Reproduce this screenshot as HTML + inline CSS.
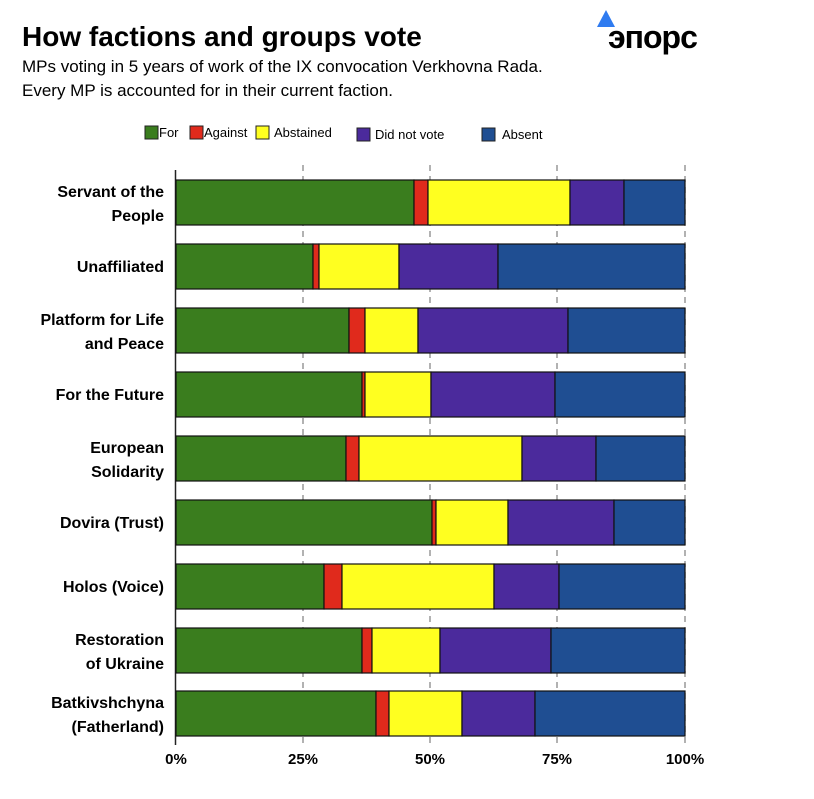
<!DOCTYPE html>
<html><head><meta charset="utf-8"><style>
body{margin:0;background:#fff;width:814px;height:794px;overflow:hidden;font-family:"Liberation Sans",sans-serif;}
</style></head><body>
<svg width="814" height="794" xmlns="http://www.w3.org/2000/svg" font-family="Liberation Sans, sans-serif">
<text x="22" y="46" font-size="28" font-weight="bold" fill="#000">How factions and groups vote</text>
<text x="22" y="72" font-size="17" fill="#000">MPs voting in 5 years of work of the IX convocation Verkhovna Rada.</text>
<text x="22" y="96" font-size="17" fill="#000">Every MP is accounted for in their current faction.</text>
<polygon points="606,10 597,27 615,27" fill="#2f7bf0"/>
<text x="608" y="48" font-size="32" font-weight="bold" fill="#000" letter-spacing="-1">эпорс</text>
<g font-size="13" fill="#000">
<rect x="145" y="126" width="13" height="13" fill="#3a7d1e" stroke="#222"/><text x="159" y="137">For</text>
<rect x="190" y="126" width="13" height="13" fill="#e02a1c" stroke="#222"/><text x="204" y="137">Against</text>
<rect x="256" y="126" width="13" height="13" fill="#ffff20" stroke="#222"/><text x="274" y="137">Abstained</text>
<rect x="357" y="128" width="13" height="13" fill="#4b2a9c" stroke="#222"/><text x="375" y="139">Did not vote</text>
<rect x="482" y="128" width="13" height="13" fill="#1f4e92" stroke="#222"/><text x="502" y="139">Absent</text>
</g>
<g stroke="#999" stroke-width="1.5" stroke-dasharray="6,5">
<line x1="303" y1="165" x2="303" y2="745"/><line x1="430" y1="165" x2="430" y2="745"/>
<line x1="557" y1="165" x2="557" y2="745"/><line x1="685" y1="165" x2="685" y2="745"/>
</g>
<line x1="175.5" y1="170" x2="175.5" y2="745" stroke="#222" stroke-width="1.5"/>
<g stroke="#111" stroke-width="1.2" id="bars"></g>
<g font-size="16" font-weight="bold" fill="#000" text-anchor="end" id="labels"></g>
<g font-size="15" font-weight="bold" fill="#000" text-anchor="middle">
<text x="176" y="764">0%</text><text x="303" y="764">25%</text><text x="430" y="764">50%</text><text x="557" y="764">75%</text><text x="685" y="764">100%</text>
</g>
<script>
var rows=[[180,414,428,570,624,["Servant of the","People"]],[244,313,319,399,498,["Unaffiliated"]],[308,349,365,418,568,["Platform for Life","and Peace"]],[372,362,365,431,555,["For the Future"]],[436,346,359,522,596,["European","Solidarity"]],[500,432,436,508,614,["Dovira (Trust)"]],[564,324,342,494,559,["Holos (Voice)"]],[628,362,372,440,551,["Restoration","of Ukraine"]],[691,376,389,462,535,["Batkivshchyna","(Fatherland)"]]];
var cols=["#3a7d1e","#e02a1c","#ffff20","#4b2a9c","#1f4e92"];
var ns="http://www.w3.org/2000/svg",b=document.getElementById("bars"),l=document.getElementById("labels");
rows.forEach(function(r){var xs=[176,r[1],r[2],r[3],r[4],685];
for(var i=0;i<5;i++){var e=document.createElementNS(ns,"rect");e.setAttribute("x",xs[i]);e.setAttribute("y",r[0]);e.setAttribute("width",xs[i+1]-xs[i]);e.setAttribute("height",45);e.setAttribute("fill",cols[i]);b.appendChild(e);}
var lb=r[5];lb.forEach(function(t,j){var e=document.createElementNS(ns,"text");e.setAttribute("x",164);e.setAttribute("y",lb.length==1?r[0]+28:r[0]+17+j*24);e.textContent=t;l.appendChild(e);});});
</script>
</svg>
</body></html>
